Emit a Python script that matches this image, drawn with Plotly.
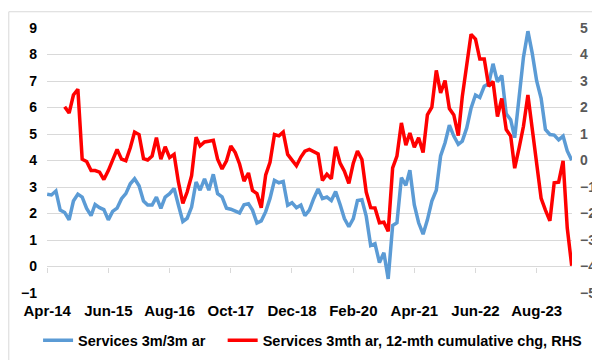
import pandas as pd
import plotly.graph_objects as go

# ---- data (monthly, Apr-14 .. Apr-24) ----
start_month = "2014-04-01"
blue_name = "Services 3m/3m ar"
red_name = "Services 3mth ar, 12-mth cumulative chg, RHS"

blue_values = [
    2.73, 2.70, 2.85, 2.13, 2.04, 1.76, 2.47, 2.73, 2.62, 2.19, 1.92, 2.34,
    2.22, 2.15, 1.76, 2.08, 2.20, 2.56, 2.75, 3.12, 3.31, 3.05, 2.47, 2.32,
    2.32, 2.62, 2.19, 2.62, 2.75, 2.95, 2.32, 1.70, 1.82, 2.24, 3.19, 2.88,
    3.31, 2.88, 3.48, 2.75, 2.63, 2.20, 2.16, 2.08, 2.02, 2.33, 2.37, 2.13,
    1.64, 1.72, 2.07, 2.57, 3.25, 3.16, 3.21, 2.31, 2.41, 2.22, 2.32, 1.92,
    2.13, 2.56, 2.93, 2.56, 2.62, 2.49, 2.83, 2.34, 1.81, 1.50, 1.81, 2.49,
    2.52, 1.90, 0.79, 0.86, 0.15, 0.52, -0.47, 1.55, 1.65, 3.35, 3.06, 3.63,
    2.32, 1.65, 1.22, 1.76, 2.47, 2.88, 4.17, 4.67, 5.33, 4.92, 4.61, 4.73,
    5.23, 5.97, 6.47, 6.38, 6.80, 6.90, 7.65, 6.97, 7.21, 5.76, 5.54, 4.86,
    6.30, 7.90, 8.88, 8.05, 7.00, 6.35, 5.17, 4.98, 4.96, 4.78, 4.92, 4.36,
    4.01,
]

red_offset = 4  # red series starts Aug-14
red_values = [
    2.03, 1.79, 2.47, 2.69, 0.05, -0.04, -0.38, -0.38,
    -0.44, -0.72, -0.38, -0.01, 0.42, 0.05, -0.01, 0.48, 1.07, 0.98, 0.07, 0.02,
    0.17, 0.86, 0.05, 0.52, 0.11, 0.23, -0.81, -1.62, -1.19, -0.57, 0.88, 0.55,
    0.70, 0.73, 0.76, 0.05, -0.32, -0.01, 0.55, 0.30, -0.13, -0.78, -0.47, -1.13,
    -1.25, -1.78, -0.54, -0.07, 0.98, 0.93, 1.07, 0.23, 0.01, -0.20, 0.13, 0.35,
    0.42, 0.35, 0.25, -0.75, -0.52, -0.69, 0.52, -0.10, -0.40, -0.86, -0.10, 0.36,
    0.04, -1.19, -1.78, -1.79, -2.35, -2.33, -2.67, -0.28, 0.17, 1.42, 0.58, 1.04,
    0.50, 0.86, 0.30, 1.72, 2.01, 3.40, 2.55, 3.02, 1.96, 1.72, 0.94, 2.41,
    3.58, 4.76, 4.58, 3.83, 3.83, 2.80, 2.98, 1.66, 2.34, 1.17, 0.92, -0.29,
    0.49, 1.29, 2.47, 1.17, -0.07, -1.43, -1.87, -2.28, -0.84, -0.82, -0.01, -2.55,
    -3.97,
]

tick_labels = ["Apr-14", "Jun-15", "Aug-16", "Oct-17", "Dec-18",
               "Feb-20", "Apr-21", "Jun-22", "Aug-23"]
tick_step_months = 14

# ---- build ----
dates = pd.date_range(start_month, periods=len(blue_values), freq="MS")
red_dates = dates[red_offset:red_offset + len(red_values)]
tick_dates = [dates[i * tick_step_months] for i in range(len(tick_labels))]

W, H = 600, 360
ml, mr, mt, mb = 39, 32, 17, 74
pw, ph = W - ml - mr, H - mt - mb
FONT = "Liberation Sans, Arial, sans-serif"

fig = go.Figure()
fig.add_trace(go.Scatter(x=dates, y=blue_values, name=blue_name, mode="lines",
                         line=dict(color="#5B9BD5", width=3.5), yaxis="y",
                         legend="legend"))
fig.add_trace(go.Scatter(x=red_dates, y=red_values, name=red_name, mode="lines",
                         line=dict(color="#FF0000", width=3.5), yaxis="y2",
                         legend="legend2"))
# invisible helper so the tick-mark axis at the zero line is drawn
fig.add_trace(go.Scatter(x=dates, y=blue_values, mode="lines", xaxis="x2", yaxis="y",
                         line=dict(color="rgba(0,0,0,0)", width=0),
                         showlegend=False, hoverinfo="skip"))

xr = [dates[0] - pd.Timedelta(days=1), dates[-1] + pd.Timedelta(days=2)]
leg_y = -(334 - (mt + ph)) / ph
leg_font = dict(size=14.5, color="#000000", weight="bold")

fig.update_layout(
    width=W, height=H,
    margin=dict(l=ml, r=mr, t=mt, b=mb, pad=0),
    paper_bgcolor="white", plot_bgcolor="white",
    font=dict(family=FONT, color="#000000"),
    xaxis=dict(range=xr, type="date", tickvals=tick_dates, ticktext=tick_labels,
               showgrid=False, zeroline=False, showline=False, ticks="",
               ticklabelstandoff=7,
               tickfont=dict(size=15, color="#000000", family=FONT, weight="bold")),
    xaxis2=dict(range=xr, type="date", matches="x", overlaying="x", anchor="free",
                position=0.1, tickvals=tick_dates, showticklabels=False,
                ticks="outside", ticklen=5, tickcolor="#D9D9D9", tickwidth=1,
                showgrid=False, zeroline=False, showline=False),
    yaxis=dict(range=[-1, 9], dtick=1, tick0=0, showgrid=True, gridcolor="#D9D9D9",
               gridwidth=1, zeroline=False, showline=False, ticks="",
               ticklabelstandoff=9,
               tickfont=dict(size=14, color="#000000", weight="bold")),
    yaxis2=dict(range=[-5, 5], dtick=1, tick0=0, overlaying="y", side="right",
                showgrid=False, zeroline=False, showline=False, ticks="",
                ticklabelstandoff=7,
                tickfont=dict(size=14, color="#595959", weight="bold")),
    legend=dict(orientation="h", x=(30 - ml) / pw, xanchor="left",
                y=leg_y, yanchor="middle", font=leg_font, itemwidth=30,
                bgcolor="rgba(0,0,0,0)"),
    legend2=dict(orientation="h", x=(216 - ml) / pw, xanchor="left",
                 y=leg_y, yanchor="middle", font=leg_font, itemwidth=30,
                 bgcolor="rgba(0,0,0,0)"),
    showlegend=True,
)

# chart-area border
fig.add_shape(type="rect", xref="paper", yref="paper",
              x0=(0.5 - ml) / pw, x1=(W - 0.5 - ml) / pw,
              y0=-(mb - 0.5) / ph, y1=1 + (mt - 0.5) / ph,
              line=dict(color="#D9D9D9", width=1), fillcolor="rgba(0,0,0,0)",
              layer="below")

fig.write_html("out.html")
